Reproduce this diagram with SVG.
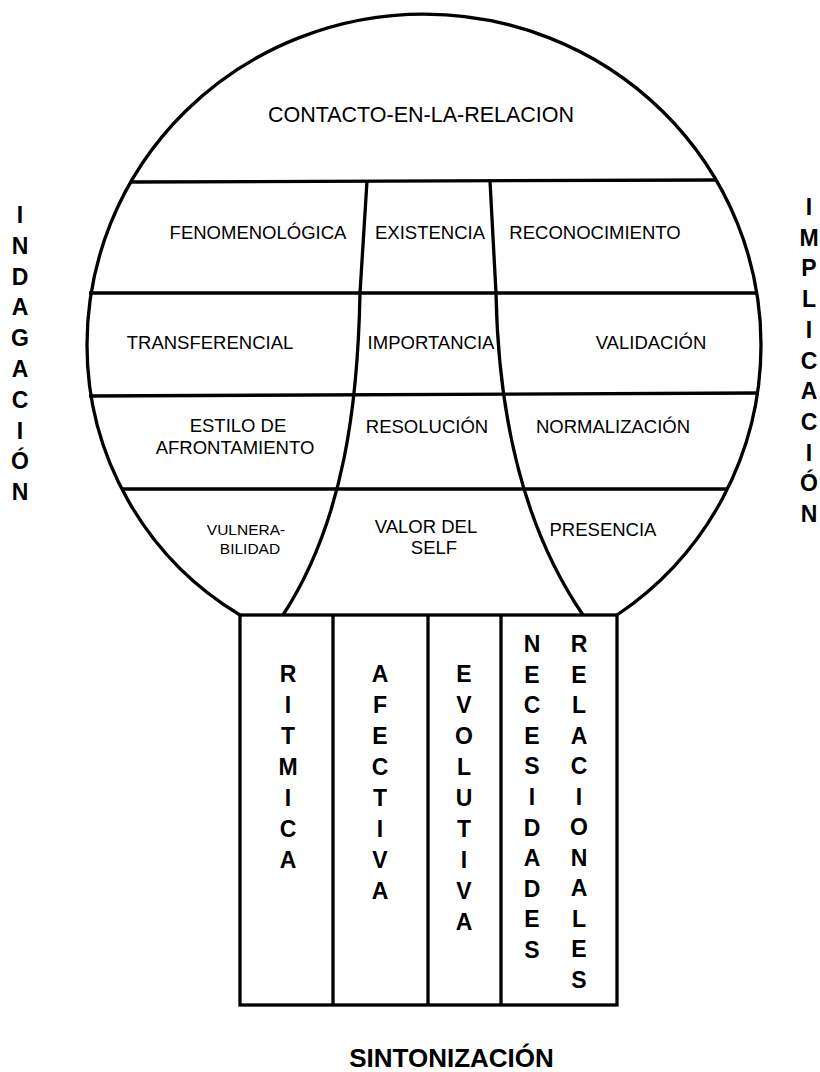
<svg xmlns="http://www.w3.org/2000/svg" width="820" height="1072" viewBox="0 0 820 1072">
<style>
.ln{fill:none;stroke:#000;stroke-width:3.3;stroke-linejoin:miter}
.t{font-family:"Liberation Sans",Arial,sans-serif;font-size:18.5px;fill:#000;text-anchor:middle}
.s{font-size:15.5px}
.v{font-family:"Liberation Sans",Arial,sans-serif;font-size:23px;font-weight:bold;fill:#000;text-anchor:middle}
</style>
<rect x="0" y="0" width="820" height="1072" fill="#fff"/>
<g id="frame">
<path class="ln" d="M 240 615 A 314.7 314.7 0 0 1 87 345 A 337 331 0 0 1 761 345 A 325 325 0 0 1 617 615"/>
<rect class="ln" x="240" y="615" width="377" height="390" fill="#fff"/>
<line class="ln" x1="333" y1="615" x2="333" y2="1005"/>
<line class="ln" x1="428" y1="615" x2="428" y2="1005"/>
<line class="ln" x1="501" y1="615" x2="501" y2="1005"/>
</g>
<g id="connectors">
<line class="ln" x1="131" y1="182" x2="716" y2="180"/>
<line class="ln" x1="89" y1="293" x2="758" y2="293"/>
<line class="ln" x1="89" y1="396" x2="759" y2="393"/>
<line class="ln" x1="121" y1="489" x2="728" y2="489"/>
<path class="ln" d="M 367 181 L 360 293 C 358 400 345 520 283 615"/>
<path class="ln" d="M 490 181 L 496 293 C 498 400 518 520 583 615"/>
</g>
<g id="contacto"><text class="t" x="421" y="122" style="font-size:21.5px">CONTACTO-EN-LA-RELACION</text></g>
<g id="fenomenologica"><text class="t" x="258" y="239">FENOMENOLÓGICA</text></g>
<g id="existencia"><text class="t" x="430" y="239">EXISTENCIA</text></g>
<g id="reconocimiento"><text class="t" x="595" y="239">RECONOCIMIENTO</text></g>
<g id="transferencial"><text class="t" x="210" y="349">TRANSFERENCIAL</text></g>
<g id="importancia"><text class="t" x="431" y="349">IMPORTANCIA</text></g>
<g id="validacion"><text class="t" x="651" y="349">VALIDACIÓN</text></g>
<g id="estilo"><text class="t" x="238" y="432">ESTILO DE</text><text class="t" x="235" y="454">AFRONTAMIENTO</text></g>
<g id="resolucion"><text class="t" x="427" y="433">RESOLUCIÓN</text></g>
<g id="normalizacion"><text class="t" x="613" y="433">NORMALIZACIÓN</text></g>
<g id="vulnerabilidad"><text class="t s" x="246" y="535">VULNERA-</text><text class="t s" x="250" y="554">BILIDAD</text></g>
<g id="valor"><text class="t" x="426" y="533">VALOR DEL</text><text class="t" x="434" y="554">SELF</text></g>
<g id="presencia"><text class="t" x="603" y="536">PRESENCIA</text></g>
<g id="indagacion"><text class="v"><tspan x="20" y="223">I</tspan><tspan x="20" dy="30.8">N</tspan><tspan x="20" dy="30.8">D</tspan><tspan x="20" dy="30.8">A</tspan><tspan x="20" dy="30.8">G</tspan><tspan x="20" dy="30.8">A</tspan><tspan x="20" dy="30.8">C</tspan><tspan x="20" dy="30.8">I</tspan><tspan x="20" dy="30.8">Ó</tspan><tspan x="20" dy="30.8">N</tspan></text></g>
<g id="implicacion"><text class="v"><tspan x="809" y="215">I</tspan><tspan x="809" dy="30.7">M</tspan><tspan x="809" dy="30.7">P</tspan><tspan x="809" dy="30.7">L</tspan><tspan x="809" dy="30.7">I</tspan><tspan x="809" dy="30.7">C</tspan><tspan x="809" dy="30.7">A</tspan><tspan x="809" dy="30.7">C</tspan><tspan x="809" dy="30.7">I</tspan><tspan x="809" dy="30.7">Ó</tspan><tspan x="809" dy="30.7">N</tspan></text></g>
<g id="ritmica"><text class="v"><tspan x="288" y="682">R</tspan><tspan x="288" dy="31">I</tspan><tspan x="288" dy="31">T</tspan><tspan x="288" dy="31">M</tspan><tspan x="288" dy="31">I</tspan><tspan x="288" dy="31">C</tspan><tspan x="288" dy="31">A</tspan></text></g>
<g id="afectiva"><text class="v"><tspan x="380" y="682">A</tspan><tspan x="380" dy="31">F</tspan><tspan x="380" dy="31">E</tspan><tspan x="380" dy="31">C</tspan><tspan x="380" dy="31">T</tspan><tspan x="380" dy="31">I</tspan><tspan x="380" dy="31">V</tspan><tspan x="380" dy="31">A</tspan></text></g>
<g id="evolutiva"><text class="v"><tspan x="464" y="682">E</tspan><tspan x="464" dy="31">V</tspan><tspan x="464" dy="31">O</tspan><tspan x="464" dy="31">L</tspan><tspan x="464" dy="31">U</tspan><tspan x="464" dy="31">T</tspan><tspan x="464" dy="31">I</tspan><tspan x="464" dy="31">V</tspan><tspan x="464" dy="31">A</tspan></text></g>
<g id="necesidades"><text class="v"><tspan x="532" y="652">N</tspan><tspan x="532" dy="30.6">E</tspan><tspan x="532" dy="30.6">C</tspan><tspan x="532" dy="30.6">E</tspan><tspan x="532" dy="30.6">S</tspan><tspan x="532" dy="30.6">I</tspan><tspan x="532" dy="30.6">D</tspan><tspan x="532" dy="30.6">A</tspan><tspan x="532" dy="30.6">D</tspan><tspan x="532" dy="30.6">E</tspan><tspan x="532" dy="30.6">S</tspan></text></g>
<g id="relacionales"><text class="v"><tspan x="579" y="652">R</tspan><tspan x="579" dy="30.5">E</tspan><tspan x="579" dy="30.5">L</tspan><tspan x="579" dy="30.5">A</tspan><tspan x="579" dy="30.5">C</tspan><tspan x="579" dy="30.5">I</tspan><tspan x="579" dy="30.5">O</tspan><tspan x="579" dy="30.5">N</tspan><tspan x="579" dy="30.5">A</tspan><tspan x="579" dy="30.5">L</tspan><tspan x="579" dy="30.5">E</tspan><tspan x="579" dy="30.5">S</tspan></text></g>
<g id="sintonizacion"><text class="v" x="451.5" y="1067" style="font-size:26px">SINTONIZACIÓN</text></g>
</svg>
